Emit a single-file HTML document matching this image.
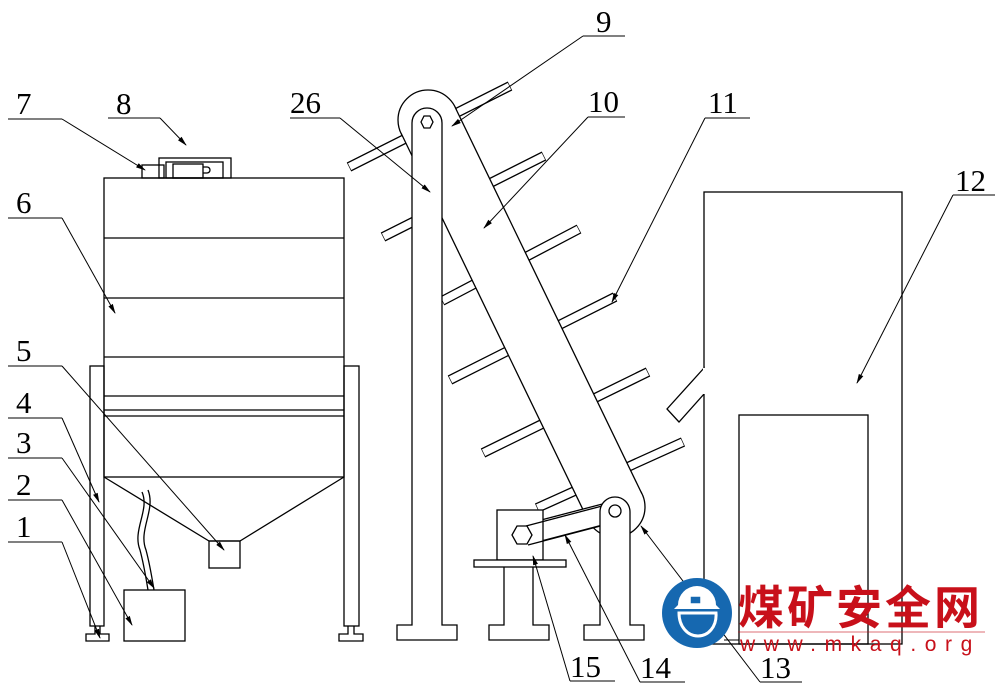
<!DOCTYPE html>
<html><head><meta charset="utf-8"><style>
html,body{margin:0;padding:0;background:#fff;}
svg{display:block;}
.n{font-family:"Liberation Serif",serif;font-size:31px;fill:#000;}
</style></head><body>
<svg width="1000" height="689" viewBox="0 0 1000 689" xmlns="http://www.w3.org/2000/svg">
<defs><marker id="a" markerWidth="10" markerHeight="6" refX="9" refY="3" orient="auto" markerUnits="userSpaceOnUse"><path d="M0,0.5 L10,3 L0,5.5z" fill="#000"/></marker></defs>
<g fill="none" stroke="#000" stroke-width="1.3">
<!-- hopper -->
<rect x="104" y="178" width="240" height="299" fill="#fff"/>
<line x1="104" y1="238" x2="344" y2="238"/>
<line x1="104" y1="298" x2="344" y2="298"/>
<line x1="104" y1="357" x2="344" y2="357"/>
<line x1="104" y1="396" x2="344" y2="396"/>
<line x1="104" y1="410" x2="344" y2="410"/>
<line x1="104" y1="416" x2="344" y2="416"/>
<polyline points="104,477 209,541 240,541 344,477"/>
<rect x="209" y="541" width="31" height="27"/>
<rect x="90" y="366" width="14" height="260"/>
<rect x="344" y="366" width="15" height="260"/>
<path d="M95,626 v8 h-9 v7 h23 v-7 h-9 v-8"/>
<path d="M348,626 v8 h-9 v7 h24 v-7 h-9 v-8"/>
<rect x="124" y="590" width="61" height="51"/>
<path d="M142,492 C150,510 132,530 140,550 C144,565 146,578 148,590"/>
<path d="M148,490 C156,510 138,530 146,550 C150,565 152,578 154,590"/>
<!-- motor top -->
<rect x="142" y="165" width="22" height="13"/>
<rect x="159" y="158" width="72" height="20"/>
<rect x="166" y="162" width="57" height="16"/>
<rect x="173" y="164" width="30" height="14"/>
<path d="M203,167 h4 a3,3 0 0 1 0,6 h-4"/>
<!-- bars -->
<g stroke-width="10" stroke-linecap="butt">
<line x1="349" y1="167" x2="510" y2="86"/><line x1="383" y1="237" x2="544" y2="156"/>
<line x1="442" y1="301" x2="579" y2="229"/><line x1="450" y1="380" x2="615" y2="297"/>
<line x1="483" y1="453" x2="648" y2="372"/><line x1="537" y1="508" x2="683" y2="442"/>
</g>
<g stroke="#fff" stroke-width="7.4" stroke-linecap="butt">
<line x1="349.6" y1="166.7" x2="509.4" y2="86.3"/><line x1="383.6" y1="236.7" x2="543.4" y2="156.3"/>
<line x1="442.6" y1="300.7" x2="578.4" y2="229.3"/><line x1="450.6" y1="379.7" x2="614.4" y2="297.3"/>
<line x1="483.6" y1="452.7" x2="647.4" y2="372.3"/><line x1="537.6" y1="507.7" x2="682.4" y2="442.3"/>
</g>
<!-- pulleys and belt -->
<circle cx="428" cy="120" r="30" fill="#fff"/>
<circle cx="615" cy="507" r="30" fill="#fff"/>
<polygon points="455,107 642,494 588,520 401,133" fill="#fff" stroke="none"/>
<line x1="455" y1="107" x2="642" y2="494"/>
<line x1="401" y1="133" x2="588" y2="520"/>
<!-- crank link -->
<path d="M522,525 L610,502 L614,522 L526,545 Z" fill="#fff"/>
<polygon points="512,535 517,526 527,526 532,535 527,544 517,544" fill="#fff"/>
<!-- motor 15 -->
<rect x="497" y="510" width="46" height="50" fill="#fff"/>
<polygon points="512,535 517,526 527,526 532,535 527,544 517,544" fill="#fff"/>
<line x1="526" y1="526" x2="606" y2="505"/>
<line x1="528" y1="545" x2="608" y2="524"/>
<rect x="474" y="560" width="92" height="7" fill="#fff"/>
<path d="M504,567 v58 h-15 v15 h60 v-15 h-16 v-58"/>
<!-- column 26 -->
<path d="M412,625 V123 A15,15 0 0 1 442,123 V625 h15 v15 h-60 v-15 z" fill="#fff"/>
<polygon points="421,122 424,116 430,116 433,122 430,128 424,128" fill="#fff"/>
<!-- bottom column -->
<path d="M600,625 V512 A15,15 0 0 1 630,512 V625 h14 v15 h-60 v-15 z" fill="#fff"/>
<circle cx="615" cy="511" r="6" fill="#fff"/>
<!-- right frame -->
<rect x="704" y="192" width="198" height="452"/>
<rect x="739" y="415" width="129" height="229"/>
<polygon points="704,368 667,409 679,422 704,394" fill="#fff"/>
<line x1="704" y1="368" x2="704" y2="394" stroke="#fff" stroke-width="2"/>
<!-- leaders -->
<g stroke-width="1">
<line x1="8" y1="119" x2="62" y2="119"/><line x1="62" y1="119" x2="145" y2="170" marker-end="url(#a)"/>
<line x1="108" y1="118" x2="160" y2="118"/><line x1="160" y1="118" x2="186" y2="145" marker-end="url(#a)"/>
<line x1="8" y1="218" x2="62" y2="218"/><line x1="62" y1="218" x2="115" y2="313" marker-end="url(#a)"/>
<line x1="8" y1="366" x2="62" y2="366"/><line x1="62" y1="366" x2="224" y2="550" marker-end="url(#a)"/>
<line x1="8" y1="418" x2="62" y2="418"/><line x1="62" y1="418" x2="99" y2="502" marker-end="url(#a)"/>
<line x1="8" y1="458" x2="62" y2="458"/><line x1="62" y1="458" x2="154" y2="588" marker-end="url(#a)"/>
<line x1="8" y1="500" x2="62" y2="500"/><line x1="62" y1="500" x2="132" y2="625" marker-end="url(#a)"/>
<line x1="8" y1="542" x2="62" y2="542"/><line x1="62" y1="542" x2="100" y2="638" marker-end="url(#a)"/>
<line x1="290" y1="118" x2="340" y2="118"/><line x1="340" y1="118" x2="430" y2="192" marker-end="url(#a)"/>
<line x1="583" y1="36" x2="625" y2="36"/><line x1="583" y1="36" x2="452" y2="126" marker-end="url(#a)"/>
<line x1="588" y1="117" x2="625" y2="117"/><line x1="588" y1="117" x2="484" y2="228" marker-end="url(#a)"/>
<line x1="705" y1="118" x2="750" y2="118"/><line x1="705" y1="118" x2="612" y2="302" marker-end="url(#a)"/>
<line x1="953" y1="195" x2="995" y2="195"/><line x1="953" y1="195" x2="857" y2="383" marker-end="url(#a)"/>
<line x1="570" y1="681" x2="615" y2="681"/><line x1="570" y1="681" x2="533" y2="556" marker-end="url(#a)"/>
<line x1="640" y1="682" x2="685" y2="682"/><line x1="640" y1="682" x2="565" y2="535" marker-end="url(#a)"/>
<line x1="760" y1="682" x2="802" y2="682"/><line x1="760" y1="682" x2="641" y2="526" marker-end="url(#a)"/>
<line x1="724" y1="640" x2="739" y2="640"/>
</g>
</g>
<g class="n">
<text x="16" y="114">7</text><text x="116" y="114">8</text><text x="16" y="213">6</text>
<text x="16" y="361">5</text><text x="16" y="413">4</text><text x="16" y="453">3</text>
<text x="16" y="495">2</text><text x="16" y="537">1</text>
<text x="290" y="113">26</text><text x="596" y="32">9</text><text x="588" y="112">10</text>
<text x="708" y="113">11</text><text x="955" y="191">12</text>
<text x="570" y="677">15</text><text x="640" y="678">14</text><text x="760" y="678">13</text>
</g>
<!-- watermark -->
<circle cx="697" cy="613" r="35" fill="#1668b0"/>
<path d="M678,605 a19,19 0 0 1 38,0 l4,4 h-46 z" fill="#fff"/>
<rect x="690" y="596" width="11" height="8" fill="#1668b0" stroke="#fff" stroke-width="1.5"/>
<path d="M679,613 h37 c1,14 -8,23 -18,23 c-10,0 -19,-9 -19,-23z" fill="#1668b0" stroke="#fff" stroke-width="3"/>
<text x="738" y="624" font-family="'Noto Sans CJK SC','WenQuanYi Zen Hei',sans-serif" font-size="46" font-weight="bold" fill="#c8101a" letter-spacing="3">煤矿安全网</text>
<line x1="738" y1="632" x2="985" y2="632" stroke="#c8101a" stroke-width="1" opacity="0.6"/>
<text x="740" y="651" font-family="'Liberation Sans',sans-serif" font-size="21" fill="#c8101a" letter-spacing="8.6">www.mkaq.org</text>
</svg>
</body></html>
